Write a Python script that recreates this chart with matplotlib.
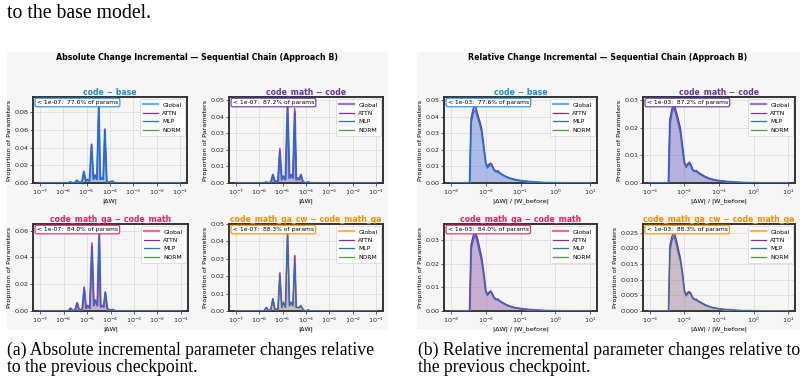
import matplotlib
matplotlib.use("Agg")
import matplotlib.pyplot as plt
from matplotlib.ticker import LogFormatterMathtext, NullLocator

# ---------------- data ----------------
# log10 bin centres
abs_exp = [-7.0, -5.8, -5.7, -5.6, -5.5, -5.42, -5.34, -5.2, -5.12, -5.04, -4.97, -4.88, -4.79,
           -4.71, -4.64, -4.56, -4.48, -4.42, -4.36, -4.29, -4.22, -4.14, -4.05, -3.9, -3.8, -1.0]
rel_exp = [-3.0, -2.46, -2.42, -2.36, -2.3, -2.24, -2.18, -2.12, -2.06, -2.0, -1.95, -1.9, -1.86,
           -1.82, -1.76, -1.7, -1.66, -1.6, -1.5, -1.4, -1.3, -1.2, -1.1, -1.0, -0.85, -0.7, -0.5,
           -0.3, -0.1, 0.1, 0.3, 0.6, 1.0]
abs_xticks = [1e-7, 1e-6, 1e-5, 1e-4, 1e-3, 1e-2, 1e-1]
rel_xticks = [1e-3, 1e-2, 1e-1, 1e0, 1e1]

pair_titles = ["code − base", "code_math − code", "code_math_qa − code_math",
               "code_math_qa_cw − code_math_qa"]
pct_below = ["77.6%", "87.2%", "84.0%", "88.3%"]

# absolute change |dW|
abs_global = [
    [0, 0, 0.001, 0, 0.0005, 0.003, 0.0005, 0.001, 0.013, 0.002, 0.004, 0.002, 0.043, 0.004, 0.009, 0.004, 0.087, 0.004, 0.006, 0.004, 0.060, 0.002, 0.0005, 0.002, 0, 0],
    [0, 0, 0.0005, 0, 0.0005, 0.005, 0.001, 0.001, 0.019, 0.002, 0.004, 0.002, 0.046, 0.003, 0.005, 0.003, 0.043, 0.002, 0.003, 0.002, 0.005, 0.001, 0, 0.0005, 0, 0],
    [0, 0, 0.002, 0, 0.001, 0.006, 0.001, 0.001, 0.017, 0.002, 0.004, 0.002, 0.048, 0.004, 0.008, 0.004, 0.059, 0.003, 0.004, 0.003, 0.014, 0.002, 0.0005, 0.001, 0, 0],
    [0, 0, 0.002, 0, 0.001, 0.007, 0.001, 0.001, 0.021, 0.002, 0.005, 0.002, 0.045, 0.003, 0.005, 0.003, 0.031, 0.002, 0.002, 0.002, 0.003, 0.001, 0, 0.0005, 0, 0],
]
abs_attn = [
    [0, 0, 0.001, 0, 0.0005, 0.003, 0.0005, 0.001, 0.012, 0.002, 0.004, 0.002, 0.044, 0.004, 0.008, 0.004, 0.089, 0.004, 0.005, 0.004, 0.061, 0.002, 0.0005, 0.002, 0, 0],
    [0, 0, 0.0005, 0, 0.0005, 0.005, 0.001, 0.001, 0.021, 0.002, 0.004, 0.002, 0.047, 0.003, 0.005, 0.003, 0.045, 0.002, 0.003, 0.002, 0.005, 0.001, 0, 0.0005, 0, 0],
    [0, 0, 0.002, 0, 0.001, 0.006, 0.001, 0.001, 0.018, 0.002, 0.004, 0.002, 0.051, 0.004, 0.008, 0.004, 0.055, 0.003, 0.004, 0.003, 0.014, 0.002, 0.0005, 0.001, 0, 0],
    [0, 0, 0.002, 0, 0.001, 0.007, 0.001, 0.001, 0.022, 0.002, 0.005, 0.002, 0.0455, 0.003, 0.005, 0.003, 0.032, 0.002, 0.002, 0.002, 0.003, 0.001, 0, 0.0005, 0, 0],
]
abs_mlp = [
    [0, 0, 0.001, 0, 0.0005, 0.003, 0.0005, 0.001, 0.013, 0.002, 0.004, 0.002, 0.040, 0.004, 0.009, 0.004, 0.085, 0.004, 0.006, 0.004, 0.057, 0.002, 0.0005, 0.002, 0, 0],
    [0, 0, 0.0005, 0, 0.0005, 0.005, 0.001, 0.001, 0.018, 0.002, 0.004, 0.002, 0.044, 0.003, 0.005, 0.003, 0.040, 0.002, 0.003, 0.002, 0.005, 0.001, 0, 0.0005, 0, 0],
    [0, 0, 0.002, 0, 0.001, 0.006, 0.001, 0.001, 0.017, 0.002, 0.004, 0.002, 0.046, 0.004, 0.008, 0.004, 0.058, 0.003, 0.004, 0.003, 0.014, 0.002, 0.0005, 0.001, 0, 0],
    [0, 0, 0.002, 0, 0.001, 0.007, 0.001, 0.001, 0.020, 0.002, 0.005, 0.002, 0.043, 0.003, 0.005, 0.003, 0.028, 0.002, 0.002, 0.002, 0.003, 0.001, 0, 0.0005, 0, 0],
]
abs_norm = [[0.0 for _ in abs_exp] for _ in range(4)]

# relative change |dW| / |W_before|
rel_global = [
    [0, 0, 0.038, 0.044, 0.046, 0.041, 0.037, 0.032, 0.022, 0.012, 0.0095, 0.011, 0.0115, 0.0105, 0.0078, 0.0068, 0.0072, 0.006, 0.0047, 0.0036, 0.0028, 0.0022, 0.0017, 0.0014, 0.001, 0.0007, 0.0004, 0.0002, 0.0001, 0.00005, 0, 0, 0],
    [0, 0, 0.022, 0.026, 0.0275, 0.025, 0.022, 0.019, 0.013, 0.0072, 0.0058, 0.0068, 0.0072, 0.0065, 0.0047, 0.0042, 0.0044, 0.0037, 0.0029, 0.0022, 0.0017, 0.0013, 0.001, 0.0008, 0.0006, 0.0004, 0.00025, 0.00012, 0.00006, 0.00003, 0, 0, 0],
    [0, 0, 0.027, 0.031, 0.033, 0.030, 0.026, 0.022, 0.016, 0.0085, 0.0068, 0.0078, 0.0082, 0.0074, 0.0056, 0.0048, 0.005, 0.0042, 0.0033, 0.0025, 0.002, 0.0015, 0.0012, 0.001, 0.0007, 0.0005, 0.0003, 0.00015, 0.00007, 0.00003, 0, 0, 0],
    [0, 0, 0.020, 0.023, 0.0245, 0.022, 0.019, 0.0165, 0.012, 0.0063, 0.005, 0.0058, 0.006, 0.0055, 0.0042, 0.0036, 0.0037, 0.0031, 0.0025, 0.0019, 0.0015, 0.0011, 0.0009, 0.0007, 0.0005, 0.0004, 0.0002, 0.0001, 0.00005, 0.00002, 0, 0, 0],
]
rel_attn = [
    [0, 0, 0.039, 0.045, 0.0475, 0.042, 0.038, 0.033, 0.023, 0.0125, 0.010, 0.0115, 0.012, 0.011, 0.008, 0.007, 0.0075, 0.0062, 0.0048, 0.0037, 0.0029, 0.0023, 0.0018, 0.0014, 0.001, 0.0007, 0.0004, 0.0002, 0.0001, 0.00005, 0, 0, 0],
    [0, 0, 0.023, 0.027, 0.0286, 0.026, 0.023, 0.020, 0.0135, 0.0075, 0.006, 0.007, 0.0075, 0.0067, 0.0048, 0.0043, 0.0045, 0.0038, 0.003, 0.0023, 0.0017, 0.0013, 0.001, 0.0008, 0.0006, 0.0004, 0.00025, 0.00012, 0.00006, 0.00003, 0, 0, 0],
    [0, 0, 0.028, 0.032, 0.0335, 0.031, 0.027, 0.023, 0.0165, 0.0088, 0.007, 0.008, 0.0085, 0.0076, 0.0057, 0.0049, 0.0051, 0.0043, 0.0034, 0.0026, 0.002, 0.0015, 0.0012, 0.001, 0.0007, 0.0005, 0.0003, 0.00015, 0.00007, 0.00003, 0, 0, 0],
    [0, 0, 0.021, 0.024, 0.0253, 0.023, 0.020, 0.017, 0.0125, 0.0066, 0.0052, 0.006, 0.0062, 0.0057, 0.0043, 0.0037, 0.0038, 0.0032, 0.0026, 0.002, 0.0015, 0.0011, 0.0009, 0.0007, 0.0005, 0.0004, 0.0002, 0.0001, 0.00005, 0.00002, 0, 0, 0],
]
rel_mlp = [
    [0, 0, 0.036, 0.042, 0.044, 0.040, 0.036, 0.031, 0.021, 0.0115, 0.009, 0.0105, 0.011, 0.010, 0.0076, 0.0066, 0.007, 0.0058, 0.0046, 0.0035, 0.0027, 0.0021, 0.0017, 0.0013, 0.001, 0.0007, 0.0004, 0.0002, 0.0001, 0.00005, 0, 0, 0],
    [0, 0, 0.021, 0.0255, 0.027, 0.0245, 0.0215, 0.0185, 0.0125, 0.007, 0.0056, 0.0066, 0.007, 0.0063, 0.0046, 0.0041, 0.0043, 0.0036, 0.0028, 0.0021, 0.0016, 0.0012, 0.001, 0.0008, 0.0006, 0.0004, 0.00025, 0.00012, 0.00006, 0.00003, 0, 0, 0],
    [0, 0, 0.026, 0.030, 0.032, 0.029, 0.025, 0.021, 0.0155, 0.0082, 0.0066, 0.0076, 0.008, 0.0072, 0.0055, 0.0047, 0.0049, 0.0041, 0.0032, 0.0024, 0.0019, 0.0015, 0.0012, 0.001, 0.0007, 0.0005, 0.0003, 0.00015, 0.00007, 0.00003, 0, 0, 0],
    [0, 0, 0.019, 0.0225, 0.024, 0.0215, 0.0185, 0.016, 0.0115, 0.0061, 0.0048, 0.0056, 0.0059, 0.0054, 0.0041, 0.0035, 0.0036, 0.003, 0.0024, 0.0018, 0.0014, 0.0011, 0.0009, 0.0007, 0.0005, 0.0004, 0.0002, 0.0001, 0.00005, 0.00002, 0, 0, 0],
]
rel_norm = [[0.0 for _ in rel_exp] for _ in range(4)]

abs_ylim = [0.097, 0.052, 0.065, 0.050]
rel_ylim = [0.052, 0.031, 0.0368, 0.0278]
abs_yticks = [[0, 0.02, 0.04, 0.06, 0.08], [0, 0.01, 0.02, 0.03, 0.04, 0.05],
              [0, 0.02, 0.04, 0.06], [0, 0.01, 0.02, 0.03, 0.04, 0.05]]
rel_yticks = [[0, 0.01, 0.02, 0.03, 0.04, 0.05], [0, 0.01, 0.02, 0.03],
              [0, 0.01, 0.02, 0.03], [0, 0.005, 0.01, 0.015, 0.02, 0.025]]
rel_ytick_fmt = ["{:.2f}", "{:.2f}", "{:.2f}", "{:.3f}"]

# ---------------- style ----------------
title_cols = ["#1E88E5", "#5E35B1", "#E91E63", "#FB8C00"]
global_cols = ["#64B0F0", "#9575CD", "#EC6A95", "#FFB459"]
ATTN_C = "#8E24AA"
MLP_C = "#1A75C9"
NORM_C = "#4E9A3A"
BG = "#f6f6f6"

W, H = 805, 385
fig = plt.figure(figsize=(W / 100, H / 100), dpi=100)
fig.patch.set_facecolor("white")


def rect(x0, y0, x1, y1):
    return [x0 / W, 1 - y1 / H, (x1 - x0) / W, (y1 - y0) / H]


# panel backgrounds (added first so they sit below the chart axes)
for (x0, x1) in [(7, 388), (417, 800)]:
    bg = fig.add_axes(rect(x0, 52, x1, 330))
    bg.set_facecolor(BG)
    bg.set_axis_off()
    bg.add_artist(bg.patch)
    bg.patch.set_visible(True)
    bg.set_zorder(-5)

abs_boxes = [(33, 97, 187, 183), (229, 97, 383, 183), (33, 224, 188, 311), (229, 224, 383, 311)]
rel_boxes = [(444, 97, 597, 183), (643, 97, 795, 183), (444, 224, 597, 311), (643, 224, 795, 311)]


def draw(ax, xs_exp, g, a, m, n, k, thr, xlabel, ylim, yticks, yfmt, xticks, xlo, xhi):
    xs = [10 ** e for e in xs_exp]
    ax.set_zorder(2)
    ax.set_facecolor(BG)
    ax.fill_between(xs, g, color=global_cols[k], alpha=0.26, lw=0, zorder=2)
    ax.fill_between(xs, a, color=ATTN_C, alpha=0.14, lw=0, zorder=2)
    ax.fill_between(xs, m, color=MLP_C, alpha=0.14, lw=0, zorder=2)
    ax.plot(xs, g, color=global_cols[k], lw=1.6, label="Global", zorder=3)
    ax.plot(xs, a, color=ATTN_C, lw=0.9, label="ATTN", zorder=4)
    ax.plot(xs, m, color=MLP_C, lw=0.9, label="MLP", zorder=5)
    ax.plot(xs, n, color=NORM_C, lw=0.9, label="NORM", zorder=6)
    ax.set_xscale("log")
    ax.set_xlim(10 ** (xlo - 0.05 * (xhi - xlo)), 10 ** (xhi + 0.05 * (xhi - xlo)))
    ax.set_xticks(xticks)
    ax.xaxis.set_major_formatter(LogFormatterMathtext())
    ax.xaxis.set_minor_locator(NullLocator())
    ax.set_ylim(0, ylim)
    ax.set_yticks(yticks)
    ax.set_yticklabels([yfmt.format(v) for v in yticks])
    ax.grid(True, color="#dedede", lw=0.6, zorder=0)
    ax.set_axisbelow(True)
    for s in ax.spines.values():
        s.set_color("#333333")
        s.set_linewidth(1.4)
    ax.tick_params(labelsize=4.6, length=2, width=0.5, pad=1.2, colors="#222222")
    ax.set_xlabel(xlabel, fontsize=4.6, labelpad=1)
    ax.set_ylabel("Proportion of Parameters", fontsize=4.6, labelpad=1.5)
    ax.set_title(pair_titles[k], fontsize=5.6, fontweight="bold", color=title_cols[k], pad=1.5)
    leg = ax.legend(loc="upper right", fontsize=4.3, frameon=True, handlelength=2.4,
                    borderpad=0.5, labelspacing=0.55, handletextpad=0.8, borderaxespad=0.4)
    leg.get_frame().set_facecolor("white")
    leg.get_frame().set_edgecolor("#cccccc")
    leg.get_frame().set_linewidth(0.5)
    ax.text(0.025, 0.965, f"< {thr}:  {pct_below[k]} of params", transform=ax.transAxes,
            fontsize=4.3, va="top", ha="left", zorder=10,
            bbox=dict(boxstyle="round,pad=0.3", facecolor="white", edgecolor=title_cols[k],
                      linewidth=0.8))


for k in range(4):
    ax = fig.add_axes(rect(*abs_boxes[k]))
    draw(ax, abs_exp, abs_global[k], abs_attn[k], abs_mlp[k], abs_norm[k], k, "1e-07",
         "|ΔW|", abs_ylim[k], abs_yticks[k], "{:.2f}", abs_xticks, -7, -1)
    ax = fig.add_axes(rect(*rel_boxes[k]))
    draw(ax, rel_exp, rel_global[k], rel_attn[k], rel_mlp[k], rel_norm[k], k, "1e-03",
         "|ΔW| / |W_before|", rel_ylim[k], rel_yticks[k], rel_ytick_fmt[k], rel_xticks, -3, 1)

fig.text(197 / W, 1 - 58 / H, "Absolute Change Incremental — Sequential Chain (Approach B)",
         fontsize=5.7, fontweight="bold", ha="center", va="center", zorder=5)
fig.text(608 / W, 1 - 58 / H, "Relative Change Incremental — Sequential Chain (Approach B)",
         fontsize=5.7, fontweight="bold", ha="center", va="center", zorder=5)

serif = "Liberation Serif"
fig.text(7 / W, 1 - 13 / H, "to the base model.", fontsize=14.2, family=serif,
         ha="left", va="center")
fig.text(7 / W, 1 - 350 / H, "(a) Absolute incremental parameter changes relative",
         fontsize=12.7, family=serif, ha="left", va="center")
fig.text(7 / W, 1 - 367 / H, "to the previous checkpoint.",
         fontsize=12.7, family=serif, ha="left", va="center")
fig.text(418 / W, 1 - 350 / H, "(b) Relative incremental parameter changes relative to",
         fontsize=12.7, family=serif, ha="left", va="center")
fig.text(418 / W, 1 - 367 / H, "the previous checkpoint.",
         fontsize=12.7, family=serif, ha="left", va="center")

fig.savefig("out.png", dpi=100, facecolor="white")
